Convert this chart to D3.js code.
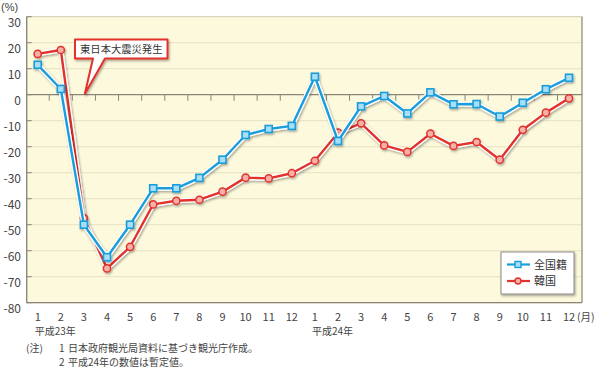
<!DOCTYPE html>
<html><head><meta charset="utf-8">
<script src="https://cdn.jsdelivr.net/npm/d3@7"></script>
<style>
html,body{margin:0;padding:0;background:#fff;}
svg{display:block;font-family:"Noto Sans CJK JP","Noto Sans",sans-serif;}
</style></head>
<body><svg id="c" width="600" height="367"></svg>
<script>
const monthLabels = ["1","2","3","4","5","6","7","8","9","10","11","12","1","2","3","4","5","6","7","8","9","10","11","12"];
const allNations = [11.5, 2.2, -50, -62.5, -50, -36, -36, -32, -25, -15.5, -13.2, -12, 6.9, -17.8, -4.5, -0.5, -7.2, 0.9, -3.7, -3.6, -8.4, -3.1, 2.1, 6.5];
const korea = [15.7, 17.2, -47.5, -66.8, -58.5, -42.2, -40.8, -40.4, -37.3, -31.9, -32.2, -30.2, -25.4, -14.6, -11, -19.5, -22, -15, -19.7, -18.2, -25, -13.5, -6.9, -1.4];
const yTicks = [30, 20, 10, 0, -10, -20, -30, -40, -50, -60, -70, -80];
const seriesNames = ["全国籍", "韓国"];
const yearLabels = [{idx: 0, text: "平成23年"}, {idx: 12, text: "平成24年"}];
const eventLabel = "東日本大震災発生";
const eventIdx = 2;
const notes = [["(注)", "1", "日本政府観光局資料に基づき観光庁作成。"], ["", "2", "平成24年の数値は暫定値。"]];

const svg = d3.select("#c");
const L = 26.7, R = 582, T = 16.7, B = 302.7;
const idx = d3.range(monthLabels.length);
const x = d3.scaleLinear().domain([0, 23]).range([37.7, 569]);
const y = d3.scaleLinear().domain([-80, 30]).range([B, T]);

const defs = svg.append("defs");
const f = defs.append("filter").attr("id","sh").attr("x","-20%").attr("y","-20%").attr("width","140%").attr("height","140%");
f.append("feDropShadow").attr("dx",1).attr("dy",1.5).attr("stdDeviation",1).attr("flood-color","#000").attr("flood-opacity",0.35);

// plot background
svg.append("rect").attr("x",L).attr("y",T).attr("width",R-L).attr("height",B-T).attr("fill","#fdf9dc");
// gridlines
svg.append("g").selectAll("line").data(yTicks.filter(v=>v!==0 && v!==30 && v!==-80)).join("line")
  .attr("x1",L).attr("x2",R).attr("y1",d=>y(d)).attr("y2",d=>y(d))
  .attr("stroke","#ece5c6").attr("stroke-width",1.2);
// frame
svg.append("rect").attr("x",L).attr("y",T).attr("width",R-L).attr("height",B-T).attr("fill","none").attr("stroke","#cfcab2").attr("stroke-width",1);
svg.append("line").attr("x1",L).attr("x2",L).attr("y1",T).attr("y2",B).attr("stroke","#8a8677").attr("stroke-width",1.3);
svg.append("line").attr("x1",L).attr("x2",R).attr("y1",B).attr("y2",B).attr("stroke","#8a8677").attr("stroke-width",1.3);
svg.append("line").attr("x1",R).attr("x2",R).attr("y1",T).attr("y2",B).attr("stroke","#9a968a").attr("stroke-width",1.2);
// left small ticks
svg.append("g").selectAll("line").data(yTicks).join("line")
  .attr("x1",L).attr("x2",L+5).attr("y1",d=>y(d)).attr("y2",d=>y(d))
  .attr("stroke","#8a8677").attr("stroke-width",1);
// zero line with ticks
svg.append("line").attr("x1",L).attr("x2",R).attr("y1",y(0)).attr("y2",y(0)).attr("stroke","#8a8677").attr("stroke-width",1.2);
svg.append("g").selectAll("line").data(idx.slice(0,23)).join("line")
  .attr("x1",d=>(x(d)+x(d+1))/2).attr("x2",d=>(x(d)+x(d+1))/2)
  .attr("y1",y(0)).attr("y2",y(0)+6).attr("stroke","#8a8677").attr("stroke-width",1);

// y labels
svg.append("g").selectAll("text").data(yTicks).join("text")
  .attr("x",21).attr("y",d=>y(d)+10).attr("text-anchor","end")
  .attr("font-size",12).attr("fill","#444").text(d=>d<0 ? "-"+Math.abs(d) : d);
svg.append("text").attr("x",1).attr("y",10.5).attr("font-size",11)
  .attr("font-family","'Liberation Sans',Arial,sans-serif").attr("fill","#444").text("(%)");

// x labels
svg.append("g").selectAll("text").data(idx).join("text")
  .attr("x",d=>x(d)).attr("y",320.5).attr("text-anchor","middle")
  .attr("font-size",11).attr("fill","#444").text(d=>monthLabels[d]);
svg.append("text").attr("x",577).attr("y",320.5).attr("font-size",10.5).attr("fill","#444").text("(月)");
svg.append("g").selectAll("text").data(yearLabels).join("text")
  .attr("x",d=>x(d.idx)-3).attr("y",334.5).attr("font-size",10).attr("fill","#444").text(d=>d.text);
// notes
const ng = svg.append("g").attr("font-size",10).attr("fill","#444");
notes.forEach((n,i)=>{
  const t = ng.append("text").attr("y",352 + i*13.5);
  if(n[0]) t.append("tspan").attr("x",26).text(n[0]);
  t.append("tspan").attr("x",59).text(n[1]);
  t.append("tspan").attr("x",68).text(n[2]);
});

// series
function drawSeries(vals, color, fill, kind){
  const g = svg.append("g").attr("filter","url(#sh)");
  const line = d3.line().x((d,i)=>x(i)).y(d=>y(d));
  g.append("path").datum(vals).attr("d",line).attr("fill","none").attr("stroke","#fff").attr("stroke-width",5).attr("stroke-linejoin","round");
  g.append("path").datum(vals).attr("d",line).attr("fill","none").attr("stroke",color).attr("stroke-width",2.4).attr("stroke-linejoin","round");
  if(kind==="sq"){
    g.selectAll("rect.m").data(vals).join("rect").attr("class","m")
      .attr("x",(d,i)=>x(i)-3.5).attr("y",d=>y(d)-3.5).attr("width",7).attr("height",7)
      .attr("fill",fill).attr("stroke",color).attr("stroke-width",1.6);
  } else {
    g.selectAll("circle.m").data(vals).join("circle").attr("class","m")
      .attr("cx",(d,i)=>x(i)).attr("cy",d=>y(d)).attr("r",3.6)
      .attr("fill",fill).attr("stroke",color).attr("stroke-width",1.5);
  }
}
drawSeries(korea, "#e2322c", "#f6b0a8", "ci");
drawSeries(allNations, "#1a9ddb", "#a8def6", "sq");

// callout
const tipX = x(eventIdx), tipY = y(0);
const bx0 = 75, bx1 = 167.5, by0 = 39.5, by1 = 58.5;
const cg = svg.append("g").attr("filter","url(#sh)");
cg.append("path")
  .attr("d",`M${bx0},${by0} H${bx1} V${by1} H105 L${tipX+1},${tipY-1} L93,${by1} H${bx0} Z`)
  .attr("fill","#fff").attr("stroke","#e2322c").attr("stroke-width",2).attr("stroke-linejoin","round");
svg.append("text").attr("x",(bx0+bx1)/2).attr("y",by0+13.5).attr("text-anchor","middle")
  .attr("font-size",10.3).attr("fill","#333").text(eventLabel);

// legend
const lg = svg.append("g");
lg.append("rect").attr("x",501).attr("y",252).attr("width",73).attr("height",42)
  .attr("fill","#fff").attr("stroke","#8a8a8a").attr("stroke-width",1).attr("filter","url(#sh)");
const legItems = [{name: seriesNames[0], c:"#1a9ddb", f:"#a8def6", k:"sq"}, {name: seriesNames[1], c:"#e2322c", f:"#f6b0a8", k:"ci"}];
legItems.forEach((d,i)=>{
  const yy = 264.5 + i*16.5;
  lg.append("line").attr("x1",507).attr("x2",530).attr("y1",yy).attr("y2",yy).attr("stroke",d.c).attr("stroke-width",2.2);
  if(d.k==="sq") lg.append("rect").attr("x",515).attr("y",yy-3).attr("width",6).attr("height",6).attr("fill",d.f).attr("stroke",d.c).attr("stroke-width",1.4);
  else lg.append("circle").attr("cx",518).attr("cy",yy).attr("r",3).attr("fill",d.f).attr("stroke",d.c).attr("stroke-width",1.4);
  lg.append("text").attr("x",534).attr("y",yy+4).attr("font-size",11).attr("fill","#333").text(d.name);
});
</script></body></html>
